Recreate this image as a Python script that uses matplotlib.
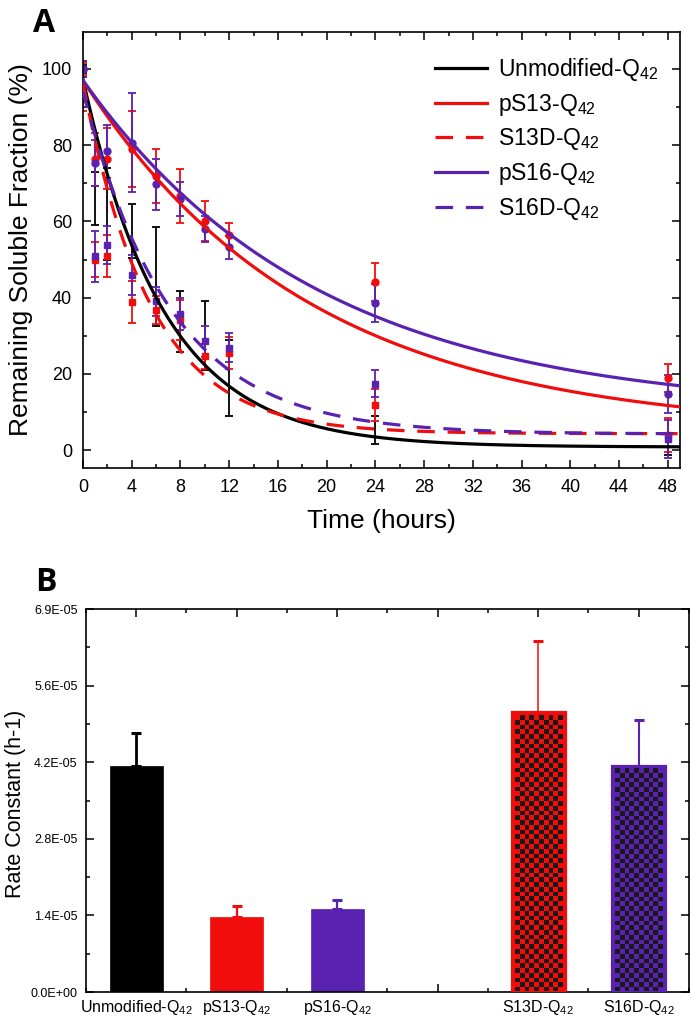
import numpy as np
import matplotlib.pyplot as plt

plt.rcParams['font.family'] = ['Liberation Sans', 'DejaVu Sans']
plt.rcParams['mathtext.fontset'] = 'custom'
plt.rcParams['mathtext.rm'] = 'Liberation Sans'
plt.rcParams['mathtext.default'] = 'regular'

RED = '#f20d0d'
PURPLE = '#5a22b0'

# ---- panel A data ----
hours = [0, 1, 2, 4, 6, 8, 10, 12, 24, 48]
unmod = [100, 66, 62, 57.5, 45.5, 33.8, 30, 19, 5.3, 1.5]
unmod_err = [1, 7, 12, 7, 13, 8, 9, 10, 3.7, 2.8]
ps13 = [100, 76.3, 76.5, 79, 71.9, 66.7, 60.1, 56.5, 44, 19]
ps13_err = [1.5, 7, 8, 10, 7, 7, 5.3, 3, 5, 3.7]
s13d = [92, 50, 51, 38.8, 36.8, 34.2, 24.6, 25.5, 11.9, 3.9]
s13d_err = [3, 4.6, 5.5, 5.5, 3.7, 5.3, 3.3, 4.2, 4.2, 4.5]
ps16 = [100, 75.4, 78.4, 80.6, 69.7, 65.8, 58, 53.2, 38.5, 14.6]
ps16_err = [2, 6, 7, 13, 6.8, 4.5, 3.5, 3, 5, 5]
s16d = [100, 50.8, 53.8, 45.9, 39, 35.6, 28.5, 26.8, 17.4, 3]
s16d_err = [2, 6.7, 5, 5.2, 3.9, 4.2, 4, 3.8, 3.6, 5]

# single exponential fits: amp * exp(-k t) + base
fit_amp = [96.5, 92.2, 92, 87, 90]
fit_k = [0.15, 0.054, 0.18, 0.0518, 0.14]
fit_base = [0.8, 4.8, 4.3, 10, 4.2]

names = ['Unmodified-Q$_{42}$', 'pS13-Q$_{42}$', 'S13D-Q$_{42}$',
         'pS16-Q$_{42}$', 'S16D-Q$_{42}$']

# ---- panel B data ----
bar_names = ['Unmodified-Q$_{42}$', 'pS13-Q$_{42}$', 'pS16-Q$_{42}$', '',
             'S13D-Q$_{42}$', 'S16D-Q$_{42}$']
rate = [4.095e-5, 1.353e-5, 1.498e-5, None, 5.068e-5, 4.10e-5]
rate_err = [0.59e-5, 0.2e-5, 0.17e-5, None, 1.3e-5, 0.82e-5]

fig = plt.figure(figsize=(6.93, 10.21), dpi=100)

# ================= panel A =================
ax1 = fig.add_axes([83/693, 1-468/1021, 597/693, 436/1021])
ys = [unmod, ps13, s13d, ps16, s16d]
errs = [unmod_err, ps13_err, s13d_err, ps16_err, s16d_err]
colors = ['black', RED, RED, PURPLE, PURPLE]
markers = ['none', 'o', 's', 'o', 's']
dashed = [False, False, True, False, True]

for y, e, c, m in zip(ys, errs, colors, markers):
    ax1.errorbar(hours, y, yerr=e, fmt=m, color=c, ms=5, capsize=3,
                 elinewidth=1.3, capthick=1.3, zorder=2)

t = np.linspace(0, 49, 400)
for i in range(5):
    fit = fit_amp[i]*np.exp(-fit_k[i]*t) + fit_base[i]
    if dashed[i]:
        ax1.plot(t, fit, color=colors[i], lw=2.3, dashes=(5.5, 4), label=names[i], zorder=3)
    else:
        ax1.plot(t, fit, color=colors[i], lw=2.3, label=names[i], zorder=3)

ax1.set_xlim(0, 49)
ax1.set_ylim(-4.7, 109.7)
ax1.set_xticks(np.arange(0, 49, 4))
ax1.set_xticks(np.arange(0, 49, 2), minor=True)
ax1.set_yticks(np.arange(0, 101, 20))
ax1.set_yticks(np.arange(0, 101, 10), minor=True)
ax1.tick_params(which='both', direction='in', top=True, right=True, width=1.1)
ax1.tick_params(which='major', length=6, labelsize=13, pad=8)
ax1.tick_params(which='minor', length=3)
for s in ax1.spines.values():
    s.set_linewidth(1.2)
ax1.set_xlabel('Time (hours)', fontsize=19)
ax1.set_ylabel('Remaining Soluble Fraction (%)', fontsize=19)
ax1.xaxis.set_label_coords(0.5, -0.093)
ax1.yaxis.set_label_coords(-0.084, 0.5)
ax1.legend(loc='upper left', bbox_to_anchor=(0.589, 0.945), frameon=False,
           fontsize=16.5, handlelength=2.3, handletextpad=0.45,
           labelspacing=0.38, borderaxespad=0, borderpad=0)

fig.text(33/693, 1-32/1021, 'A', fontsize=23, fontweight='bold',
         family='Open Sans', va='baseline')

# ================= panel B =================
ax2 = fig.add_axes([86/693, 1-992/1021, 603/693, 383/1021])
ymax = 6.94e-5
ax2.set_xlim(0.5, 6.5)
ax2.set_ylim(0, ymax)

bar_colors = ['black', RED, PURPLE, None, RED, PURPLE]
checker = [False, False, False, None, True, True]
err_lw = [2.0, 1.6, 1.6, None, 1.1, 1.5]
width = 0.53
pos = np.arange(1, len(bar_names)+1)

for x, h, e, c, chk, lw in zip(pos, rate, rate_err, bar_colors, checker, err_lw):
    if h is None:
        continue
    ax2.errorbar(x, h, yerr=[[0], [e]], fmt='none', ecolor=c, elinewidth=lw,
                 capsize=3.5, capthick=2.2, zorder=1)
    if not chk:
        ax2.bar(x, h, width=width, color=c, edgecolor=c, lw=0.5, zorder=2)
        continue
    ax2.bar(x, h, width=width, color=c, edgecolor='none', zorder=2)
    # checkerboard fill
    p0 = ax2.transData.transform((x - width/2, 0))
    p1 = ax2.transData.transform((x + width/2, h))
    wpx, hpx = p1 - p0
    inset = 3.0
    sq = 4.8
    ncol = max(1, int(round((wpx - 2*inset)/sq)))
    nrow = max(1, int(round((hpx - inset)/sq)))
    ii, jj = np.mgrid[0:nrow, 0:ncol]
    img = np.zeros((nrow, ncol, 4))
    img[..., 0:3] = 0.1
    img[..., 3] = ((ii + jj) % 2 == 0).astype(float)
    dx = inset*width/wpx
    dy = inset*h/hpx
    ax2.imshow(img, extent=[x - width/2 + dx, x + width/2 - dx, 0, h - dy],
               origin='lower', aspect='auto', interpolation='nearest', zorder=2.5)
    ax2.bar(x, h, width=width, color='none', edgecolor=c, lw=2.3, zorder=3)

ax2.set_xlim(0.5, 6.5)
ax2.set_ylim(0, ymax)
ax2.set_xticks(pos)
ax2.set_xticklabels(bar_names)
ax2.set_xticks(np.arange(0.5, 6.6, 0.5), minor=True)
ax2.set_yticks(np.linspace(0, ymax, 6))
ax2.set_yticks(np.linspace(0, ymax, 11), minor=True)
ax2.yaxis.set_major_formatter(plt.FormatStrFormatter('%.1E'))
ax2.tick_params(which='both', direction='in', top=True, right=True, width=1.1)
ax2.tick_params(which='major', length=6)
ax2.tick_params(which='minor', length=3)
ax2.tick_params(axis='x', which='major', labelsize=11.5, pad=4)
ax2.tick_params(axis='y', which='major', labelsize=9, pad=6)
for s in ax2.spines.values():
    s.set_linewidth(1.2)
ax2.set_ylabel('Rate Constant (h-1)', fontsize=15.5)
ax2.yaxis.set_label_coords(-0.1, 0.49)

fig.text(35/693, 1-591/1021, 'B', fontsize=23, fontweight='bold',
         family='Open Sans', va='baseline')

fig.savefig('out.png', dpi=100)
